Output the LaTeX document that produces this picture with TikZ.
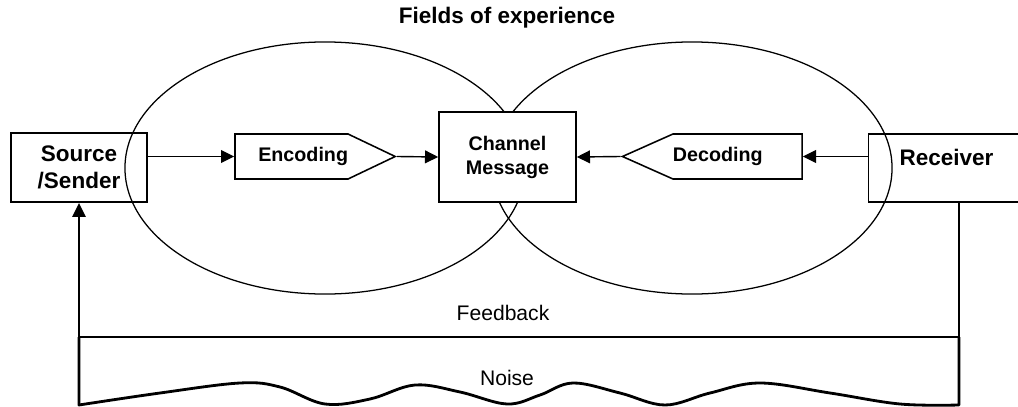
\documentclass[tikz,border=0pt]{standalone}
\usepackage{fontspec}
\setmainfont{Liberation Sans}
\usetikzlibrary{positioning, shapes.symbols, arrows.meta}

\begin{document}
\begin{tikzpicture}[
	x = 0.025cm, y = -0.025cm,
	font = \fontsize{14}{17}\selectfont\bfseries,
	box/.style = {draw, rectangle, align=center, line width=1.1pt, inner sep=0pt},
	endbox/.style = {box, font=\fontsize{16}{19}\selectfont\bfseries},
	coder/.style = {draw, signal, line width=1.1pt, minimum height=1.125cm, inner xsep=0pt, inner ysep=0pt},
	field/.style = {line width=0.9pt},
	fbline/.style = {line width=2pt},
	every edge/.style = {draw, -{Triangle[length=3.3mm, width=3.2mm]}, line width=1pt}
]
  \useasboundingbox (0, 0) rectangle (1018, 407);

  % Fields of experience
  \draw[field] (325, 168) ellipse [x radius=5cm, y radius=3.15cm];
  \draw[field] (692, 168) ellipse [x radius=5cm, y radius=3.15cm];
  \node at (507, 18) (fields) {\fontsize{16}{19}\selectfont Fields of experience};

  % Define vertices
  \node[endbox, minimum width=3.4cm, minimum height=1.725cm] at (79, 167.5) (src) {Source \\ /Sender};
  \node[coder, signal to=east, signal pointer angle=51, text width=2.825cm, align=right] at (291.5, 156.5) (enc) {Encoding};
  \node[box, fill=white, minimum width=3.425cm, minimum height=2.25cm] at (507.5, 157) (chan) {Channel \\ Message};
  \node[coder, signal to=west, signal pointer angle=48, text width=3.225cm, align=left] at (737.5, 156.5) (dec) {Decoding};
  \node[endbox, minimum width=3.9cm, minimum height=1.7cm, text height=11pt, text depth=15pt] at (946.5, 168) (rec) {Receiver};

  % Edges
  \draw (src.east |- enc.west) edge (enc.west);
  \draw (enc.east) edge (chan.west);
  \draw (rec.west |- dec.east) edge (dec.east);
  \draw (dec.west) edge (chan.east);

  % Feedback and noise
  \coordinate (fbR) at (959, 337);
  \coordinate (fbL) at (79, 337);
  \draw[fbline, -{Triangle[length=3.5mm, width=3.2mm]}] (rec.south -| fbR) -- (fbR) -- (fbL) -- (src.south);
  \node at (503, 313) (feedback) {\fontsize{15}{18}\selectfont\mdseries Feedback};
  \draw[fbline, line join=round] (fbL) -- plot[smooth, tension=0.6] coordinates {(79, 405) (160, 393) (240, 383) (280, 387) (325, 404) (370, 399) (415, 385) (460, 392) (507, 404) (540, 395) (573, 383) (620, 393) (665, 405) (710, 393) (760, 383) (830, 393) (900, 404) (959, 405)} -- (fbR);
  \node at (507, 378) (noise) {\fontsize{15}{18}\selectfont\mdseries Noise};
\end{tikzpicture}
\end{document}
